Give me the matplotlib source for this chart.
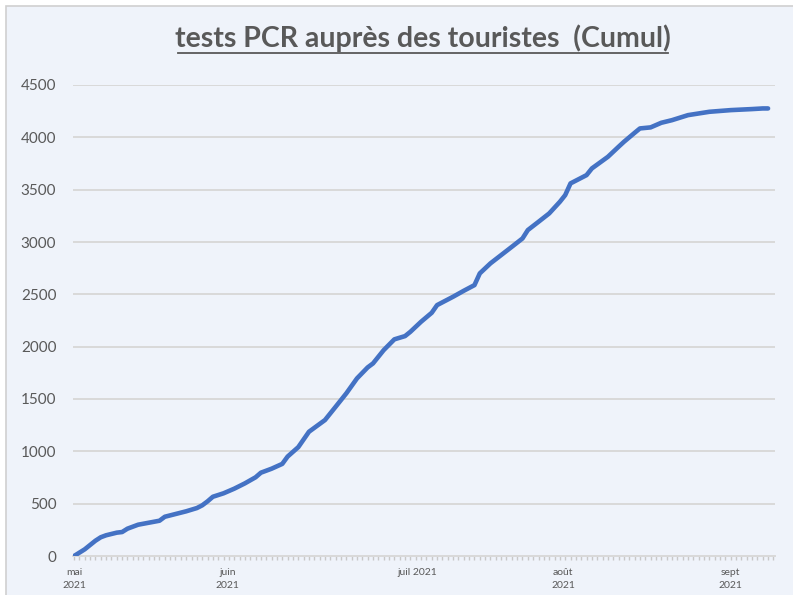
import matplotlib
matplotlib.use("Agg")
import matplotlib.pyplot as plt
from matplotlib.patches import Rectangle
from matplotlib.lines import Line2D
from matplotlib.ticker import MultipleLocator

# cumulative PCR tests (x = days since start of series)
days = [0, 2, 4, 5, 6, 8, 9, 10, 12, 14, 16, 17, 19, 21, 23, 24, 25, 26, 28, 30,
        32, 34, 35, 37, 39, 40, 42, 44, 47, 49, 51, 53, 55, 56, 58, 60, 62, 63,
        65, 67, 68, 71, 73, 75, 76, 78, 80, 82, 84, 85, 87, 89, 91, 92, 93, 96,
        97, 100, 102, 103, 105, 106, 108, 110, 112, 115, 119, 123, 127, 129, 130]
cumul = [0, 64, 146, 179, 198, 223, 229, 261, 299, 318, 337, 375, 401, 427, 458,
         484, 522, 566, 599, 643, 694, 752, 796, 834, 880, 950, 1040, 1187, 1299,
         1426, 1554, 1697, 1802, 1840, 1967, 2070, 2101, 2142, 2238, 2324, 2397,
         2477, 2534, 2588, 2700, 2796, 2875, 2954, 3034, 3114, 3193, 3273, 3384,
         3448, 3560, 3639, 3703, 3814, 3910, 3957, 4043, 4085, 4095, 4139, 4164,
         4212, 4244, 4260, 4270, 4276, 4276]

month_pos = [0, 28.8, 64.2, 91.6, 123]
month_labels = ["mai\n2021", "juin\n2021", "juil 2021", "août\n2021", "sept\n2021"]

BG = "#EFF3FA"
GRID = "#D9D9D9"
TXT = "#595959"
BLUE = "#4472C4"

plt.rcParams["font.family"] = ["Lato", "DejaVu Sans"]

fig = plt.figure(figsize=(7.93, 5.95), dpi=100, facecolor="white")
bg = Rectangle((6 / 793, -0.1), 1.2, 1.1 - 6 / 595, transform=fig.transFigure,
               facecolor=BG, edgecolor="#D0D0D0", linewidth=1.2, zorder=-10)
fig.add_artist(bg)

ax = fig.add_axes([73 / 793, 1 - 556 / 595, (775 - 73) / 793, (556 - 85) / 595])
ax.set_zorder(2)
ax.set_facecolor("none")
ax.plot(days, cumul, color=BLUE, linewidth=3.3, solid_capstyle="round",
        solid_joinstyle="round", zorder=3)

ax.set_xlim(-0.2, 131.3)
ax.set_ylim(0, 4500)
ax.set_yticks(range(0, 4501, 500))
ax.yaxis.grid(True, color=GRID, linewidth=1.4)
ax.set_axisbelow(True)
for side in ["left", "right", "top"]:
    ax.spines[side].set_visible(False)
ax.spines["bottom"].set_color(GRID)
ax.spines["bottom"].set_linewidth(1.4)
ax.tick_params(axis="y", length=0, pad=12, labelsize=11, labelcolor=TXT)

ax.set_xticks([])
ax.xaxis.set_minor_locator(MultipleLocator(1))
ax.tick_params(axis="x", which="minor", length=3, width=1, color="#C8C8C8", direction="out")

for pos, lab in zip(month_pos, month_labels):
    ax.text(pos, -0.025, lab, transform=ax.get_xaxis_transform(), ha="center", va="top",
            fontsize=7.5, color=TXT, linespacing=1.6)

fig.text(423 / 793, 1 - 38 / 595, "tests PCR auprès des touristes  (Cumul)",
         ha="center", va="center", fontsize=20.5, fontweight="bold",
         color=TXT, zorder=5)
fig.add_artist(Line2D([178 / 793, 668 / 793], [1 - 53 / 595, 1 - 53 / 595],
                      transform=fig.transFigure, color=TXT, linewidth=1.3, zorder=5))

fig.savefig("out.png", dpi=100, facecolor=fig.get_facecolor())
